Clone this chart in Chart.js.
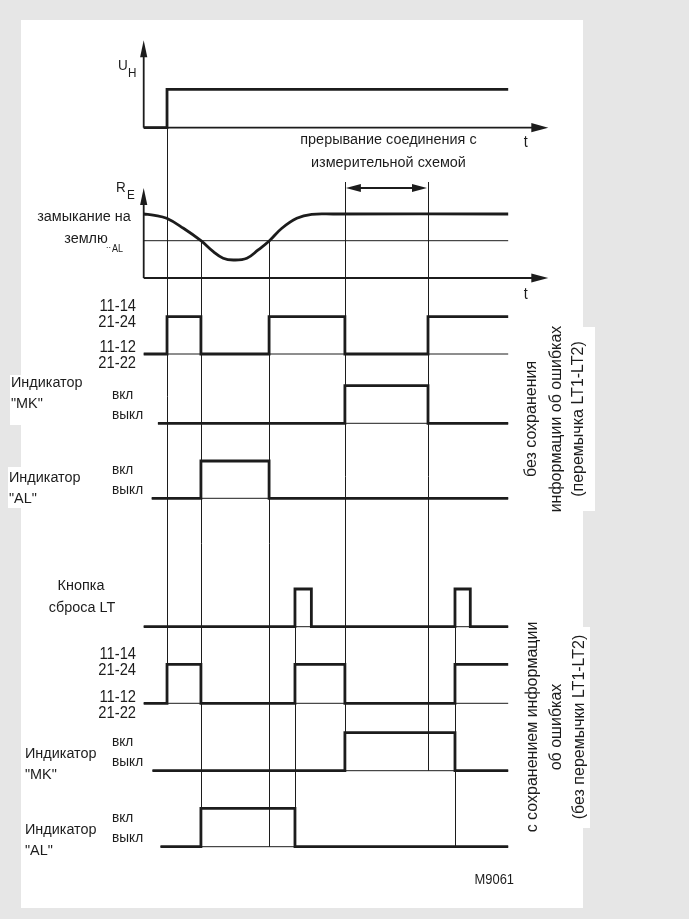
<!DOCTYPE html>
<html><head><meta charset="utf-8">
<script src="https://cdn.jsdelivr.net/npm/chart.js@4/dist/chart.umd.min.js"></script>
<style>html,body{margin:0;padding:0;background:#e6e6e6;overflow:hidden}canvas{display:block}</style>
</head><body><canvas id="c" width="689" height="919"></canvas>
<script>
// ---- DATA (time units: 0 = axis origin, 100 = end of traces) ----
const eventTimes  = [0, 6.4, 15.7, 34.4, 41.5, 46.0, 55.2, 78.0, 85.4, 89.6, 100];
const supplyUH    = [0, 1, 1, 1, 1, 1, 1, 1, 1, 1, 1];
const relayNoMem  = [0, 1, 0, 1, 1, 1, 0, 1, 1, 1, 1];
const mkNoMem     = [0, 0, 0, 0, 0, 0, 1, 0, 0, 0, 0];
const alNoMem     = [0, 0, 1, 0, 0, 0, 0, 0, 0, 0, 0];
const resetButton = [0, 0, 0, 0, 1, 0, 0, 0, 1, 0, 0];
const relayMem    = [0, 1, 0, 0, 1, 1, 0, 0, 1, 1, 1];
const mkMem       = [0, 0, 0, 0, 0, 0, 1, 1, 0, 0, 0];
const alMem       = [0, 0, 1, 1, 0, 0, 0, 0, 0, 0, 0];
const traceStart  = {uH:0, relay1:0, mk1:3.9, al1:2.2, reset:0, relay2:0, mk2:2.4, al2:4.6};
// earth resistance R_E
const reTimes  = [0, 3.0, 6.3, 10.9, 15.7, 19.1, 21.8, 24.6, 28.3, 31.4, 34.5, 37.9, 42.0, 46.1, 52, 100];
const reValues = [100, 98, 93.3, 77.7, 58.3, 41.1, 30.8, 28.1, 30.8, 43.8, 58.3, 77.7, 93.3, 99.5, 100, 100];
const reAlarm  = 58.3;
const breakStart = 55.2, breakEnd = 78.0;

// ---- LAYOUT ----
const W = 689, H = 919;
const originPx = 143.7, pxPerUnit = 3.645;
const rowLayout = {
  uH:{base:127.7, top:89.3, unit:1},
  re:{base:278, top:214, unit:100},
  relay1:{base:354, top:316.7, unit:1},
  mk1:{base:423.3, top:385.7, unit:1},
  al1:{base:498.3, top:461, unit:1},
  reset:{base:626.7, top:589, unit:1},
  relay2:{base:703.3, top:664.3, unit:1},
  mk2:{base:770.7, top:732.7, unit:1},
  al2:{base:846.7, top:808.3, unit:1}
};
const INK = '#1c1c1c';
const scales = {
  x:{type:'linear', axis:'x', display:false, min:-originPx/pxPerUnit, max:(W-originPx)/pxPerUnit}
};
for (const id in rowLayout) {
  const r = rowLayout[id];
  const k = (r.base - r.top) / r.unit;
  const max = r.base / k;
  scales[id] = {type:'linear', axis:'y', position:'left', display:false, min:max - H / k, max:max};
}
function trace(levels, start) {
  const pts = [{x:start, y:levels[0]}];
  for (let i = 1; i < eventTimes.length; i++) if (eventTimes[i] > start) pts.push({x:eventTimes[i], y:levels[i]});
  return pts;
}
const signals = [
  ['uH', supplyUH], ['relay1', relayNoMem], ['mk1', mkNoMem], ['al1', alNoMem],
  ['reset', resetButton], ['relay2', relayMem], ['mk2', mkMem], ['al2', alMem]
];
const datasets = [];
signals.forEach(([id, lv]) => {
  datasets.push({data:trace(lv, traceStart[id]), yAxisID:id, xAxisID:'x', stepped:true,
    borderColor:INK, borderWidth:2.8, pointRadius:0, fill:false, order:0, borderJoinStyle:'miter'});
  if (id !== 'uH') datasets.push({data:[{x:traceStart[id], y:0}, {x:100, y:0}], yAxisID:id, xAxisID:'x',
    borderColor:INK, borderWidth:1, pointRadius:0, fill:false, order:1});
});
datasets.push({data:reTimes.map((t, i) => ({x:t, y:reValues[i]})), yAxisID:'re', xAxisID:'x',
  borderColor:INK, borderWidth:2.8, pointRadius:0, fill:false, tension:0.4, order:0});
datasets.push({data:[{x:0, y:reAlarm}, {x:100, y:reAlarm}], yAxisID:'re', xAxisID:'x',
  borderColor:INK, borderWidth:1, pointRadius:0, fill:false, order:1});

const guides = [
  [eventTimes[1], 'uH', 1, 'relay2', 0],
  [eventTimes[2], 're', reAlarm, 'al2', 0],
  [eventTimes[3], 're', reAlarm, 'al2', 0],
  [eventTimes[4], 'reset', 1, 'al2', 0],
  [breakStart, 're', 150, 'mk2', 0],
  [breakEnd, 're', 150, 'mk2', 0],
  [eventTimes[8], 'reset', 1, 'al2', 0]
];

function txt(ctx, s, x, y, size, align, sx, family) {
  ctx.save(); ctx.translate(x, y); ctx.scale(sx || 1, 1);
  ctx.font = size + 'px ' + (family || '"Liberation Sans", Arial, sans-serif');
  ctx.textAlign = align || 'left'; ctx.textBaseline = 'middle'; ctx.fillStyle = INK;
  ctx.fillText(s, 0, 0); ctx.restore();
}
function rtxt(ctx, s, x, y, size) {
  ctx.save(); ctx.translate(x, y); ctx.rotate(-Math.PI / 2);
  ctx.font = size + 'px "Liberation Sans", Arial, sans-serif';
  ctx.textAlign = 'center'; ctx.textBaseline = 'middle'; ctx.fillStyle = INK;
  ctx.fillText(s, 0, 0); ctx.restore();
}
function arrowHead(ctx, x, y, dir, len, half) {
  ctx.beginPath();
  if (dir === 'right') { ctx.moveTo(x, y); ctx.lineTo(x - len, y - half); ctx.lineTo(x - len, y + half); }
  if (dir === 'left')  { ctx.moveTo(x, y); ctx.lineTo(x + len, y - half); ctx.lineTo(x + len, y + half); }
  if (dir === 'up')    { ctx.moveTo(x, y); ctx.lineTo(x - half, y + len); ctx.lineTo(x + half, y + len); }
  ctx.closePath(); ctx.fill();
}

const diagramPlugin = {
  id:'diagram',
  beforeDraw(chart) {
    const ctx = chart.ctx;
    ctx.save();
    ctx.fillStyle = '#e6e6e6'; ctx.fillRect(0, 0, W, H);
    ctx.fillStyle = '#ffffff';
    ctx.fillRect(21, 20, 562, 888);
    ctx.fillRect(520, 327, 75, 184);
    ctx.fillRect(520, 627, 70, 201);
    ctx.fillRect(10, 375, 90, 50);
    ctx.fillRect(8, 467, 90, 41);
    ctx.restore();
  },
  beforeDatasetsDraw(chart) {
    const ctx = chart.ctx, X = chart.scales.x, S = chart.scales;
    ctx.save();
    ctx.strokeStyle = INK; ctx.fillStyle = INK; ctx.lineWidth = 1;
    guides.forEach(([t, r1, v1, r2, v2]) => {
      const x = Math.round(X.getPixelForValue(t)) + 0.5;
      ctx.beginPath(); ctx.moveTo(x, S[r1].getPixelForValue(v1)); ctx.lineTo(x, S[r2].getPixelForValue(v2)); ctx.stroke();
    });
    // axes
    const x0 = X.getPixelForValue(0), xEnd = X.getPixelForValue(111);
    ctx.lineWidth = 1.8;
    [['uH', 2.28], ['re', 140.6]].forEach(([id, topV]) => {
      const yb = S[id].getPixelForValue(0), yt = S[id].getPixelForValue(topV);
      ctx.beginPath(); ctx.moveTo(x0, yb); ctx.lineTo(x0, yt + 10); ctx.stroke();
      ctx.beginPath(); ctx.moveTo(x0, yb); ctx.lineTo(xEnd - 10, yb); ctx.stroke();
      arrowHead(ctx, x0, yt, 'up', 17, 3.6);
      arrowHead(ctx, xEnd, yb, 'right', 17, 4.6);
    });
    // interruption bracket
    const ya = S.re.getPixelForValue(140.6);
    const xa = X.getPixelForValue(breakStart), xb = X.getPixelForValue(breakEnd);
    ctx.lineWidth = 2;
    ctx.beginPath(); ctx.moveTo(xa + 8, ya); ctx.lineTo(xb - 8, ya); ctx.stroke();
    arrowHead(ctx, xa + 1, ya, 'left', 15, 4);
    arrowHead(ctx, xb - 1, ya, 'right', 15, 4);
    ctx.restore();
  },
  afterDraw(chart) {
    const ctx = chart.ctx, X = chart.scales.x, S = chart.scales;
    const xr = X.getPixelForValue(104.8);
    // axis labels
    txt(ctx, 'U', 118, 66, 15, 'left', 0.9);
    txt(ctx, 'H', 128, 73, 13, 'left', 0.9);
    txt(ctx, 'R', 116, 188, 15, 'left', 0.9);
    txt(ctx, 'E', 127, 195, 13, 'left', 0.9);
    txt(ctx, 't', xr, 143, 16, 'center', 0.9);
    txt(ctx, 't', xr, 295, 16, 'center', 0.9);
    const xc = (X.getPixelForValue(breakStart) + X.getPixelForValue(breakEnd)) / 2;
    txt(ctx, 'прерывание соединения с', xc + 2, 140, 15.5, 'center', 0.93);
    txt(ctx, 'измерительной схемой', xc + 2, 163, 15.5, 'center', 0.93);
    txt(ctx, 'замыкание на', 84, 217, 15.5, 'center', 0.93);
    txt(ctx, 'землю', 86, 239, 15.5, 'center', 0.93);
    txt(ctx, '..', 106, 246, 9, 'left', 1);
    txt(ctx, 'AL', 112, 249, 10, 'left', 0.9);
    // relay contact labels
    [['relay1'], ['relay2']].forEach(([id]) => {
      const yt = S[id].getPixelForValue(1), yb = S[id].getPixelForValue(0);
      txt(ctx, '11-14', 136, yt - 10, 16, 'right', 0.92);
      txt(ctx, '21-24', 136, yt + 6, 16, 'right', 0.92);
      txt(ctx, '11-12', 136, yb - 6, 16, 'right', 0.92);
      txt(ctx, '21-22', 136, yb + 10, 16, 'right', 0.92);
    });
    // indicator labels
    [['mk1', '"MK"', 11], ['al1', '"AL"', 9], ['mk2', '"MK"', 25], ['al2', '"AL"', 25]].forEach(([id, name, lx]) => {
      const yt = S[id].getPixelForValue(1);
      txt(ctx, 'вкл', 112, yt + 9, 15.5, 'left', 0.88);
      txt(ctx, 'выкл', 112, yt + 29, 15.5, 'left', 0.88);
      const ym = id === 'mk1' ? yt - 3 : (id === 'al1' ? yt + 17 : yt + 21);
      txt(ctx, 'Индикатор', lx, ym, 15.5, 'left', 0.93);
      txt(ctx, name, lx, ym + 21, 15.5, 'left', 0.93);
    });
    txt(ctx, 'Кнопка', 81, 586, 15.5, 'center', 0.93);
    txt(ctx, 'сброса LT', 82, 608, 15.5, 'center', 0.93);
    // side notes
    rtxt(ctx, 'без сохранения', 532, 419, 16);
    rtxt(ctx, 'информации об ошибках', 557, 419, 16);
    rtxt(ctx, '(перемычка LT1-LT2)', 579, 419, 16);
    rtxt(ctx, 'с сохранением информации', 533, 727, 16);
    rtxt(ctx, 'об ошибках', 557, 727, 16);
    rtxt(ctx, '(без перемычки LT1-LT2)', 580, 727, 16);
    txt(ctx, 'M9061', 514, 880, 15, 'right', 0.86);
  }
};

new Chart(document.getElementById('c'), {
  type:'line',
  data:{datasets},
  options:{
    responsive:false, animation:false, devicePixelRatio:1,
    layout:{padding:0},
    plugins:{legend:{display:false}, tooltip:{enabled:false}, title:{display:false}},
    events:[],
    scales
  },
  plugins:[diagramPlugin]
});
</script>
</body></html>
